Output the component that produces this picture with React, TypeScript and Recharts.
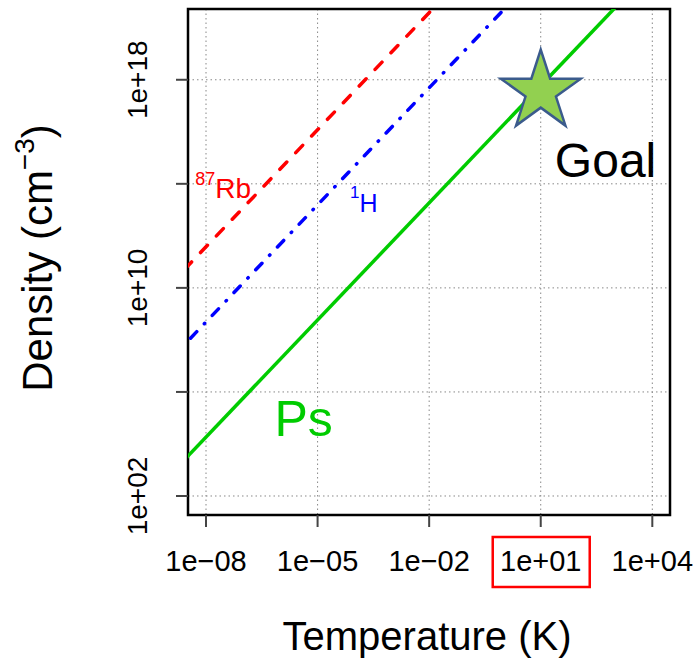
import React from "react";
import {
  ComposedChart,
  Line,
  XAxis,
  YAxis,
  CartesianGrid,
  ReferenceDot,
  ReferenceArea,
  Label,
} from "recharts";

const FONT = '"Liberation Sans", Arial, Helvetica, sans-serif';

// axis ranges (log10 limits of the plotting box)
const xDomain = [3.28e-9, 2.99e4];
const yDomain = [18.6, 5.25e20];

const xTicks = [1e-8, 1e-5, 1e-2, 1e1, 1e4];
const xTickLabels = ["1e\u221208", "1e\u221205", "1e\u221202", "1e+01", "1e+04"];
const boxedTick = 1e1;

const yTicks = [1e2, 1e6, 1e10, 1e14, 1e18];
const yTickLabels = ["1e+02", "", "1e+10", "", "1e+18"];

// degeneracy lines, n ~ T^1.5
const psLine = [
  { T: 1e-9, n: 5.8e2 },
  { T: 1e3, n: 5.9e20 },
];
const rbLine = [
  { T: 1e-9, n: 1.2e10 },
  { T: 1e-1, n: 1.2e22 },
];
const hLine = [
  { T: 1e-9, n: 1.55e7 },
  { T: 1e1, n: 1.55e22 },
];

const goalPoint = { T: 10, n: 3.5e17 };

const annotations = [
  { text: "Ps", sup: "", T: 6.9e-7, n: 2.0e4, color: "#00cc00", size: 50, supSize: 0, supRise: 0 },
  { text: "Goal", sup: "", T: 24, n: 1.86e14, color: "#000000", size: 48, supSize: 0, supRise: 0 },
  { text: "Rb", sup: "87", T: 5.1e-9, n: 2.95e13, color: "#ff0000", size: 28, supSize: 18, supRise: 13 },
  { text: "H", sup: "1", T: 7.4e-5, n: 7.9e12, color: "#0000ff", size: 25, supSize: 17, supRise: 14 },
];

const sameTick = (a: number, b: number) =>
  Math.abs(Math.log10(a) - Math.log10(b)) < 1e-6;

const XTick = (props: any) => {
  const { x, y, payload } = props;
  const i = xTicks.findIndex((t) => sameTick(t, payload.value));
  const label = i >= 0 ? xTickLabels[i] : "";
  const boxed = sameTick(payload.value, boxedTick);
  return (
    <g>
      {boxed && (
        <rect
          x={x - 48}
          y={y + 8}
          width={97}
          height={50}
          fill="none"
          stroke="#ff0000"
          strokeWidth={2.5}
        />
      )}
      <text
        x={x}
        y={y + 42}
        textAnchor="middle"
        fontFamily={FONT}
        fontSize={29}
        fill="#000"
      >
        {label}
      </text>
    </g>
  );
};

const YTick = (props: any) => {
  const { x, y, payload } = props;
  const i = yTicks.findIndex((t) => sameTick(t, payload.value));
  const label = i >= 0 ? yTickLabels[i] : "";
  if (!label) return <g />;
  const tx = x - 27;
  return (
    <text
      x={tx}
      y={y}
      transform={`rotate(-90, ${tx}, ${y})`}
      textAnchor="middle"
      fontFamily={FONT}
      fontSize={28}
      fill="#000"
    >
      {label}
    </text>
  );
};

const XTitle = (props: any) => {
  const vb = props.viewBox;
  return (
    <text
      x={vb.x + vb.width / 2 - 2}
      y={vb.y + 135}
      textAnchor="middle"
      fontFamily={FONT}
      fontSize={40}
      fill="#000"
    >
      Temperature (K)
    </text>
  );
};

const YTitle = (props: any) => {
  const vb = props.viewBox;
  const tx = 52;
  const ty = vb.y + vb.height / 2 - 4;
  return (
    <text
      x={tx}
      y={ty}
      transform={`rotate(-90, ${tx}, ${ty})`}
      textAnchor="middle"
      fontFamily={FONT}
      fontSize={42}
      fill="#000"
    >
      <tspan>Density (cm</tspan>
      <tspan fontSize={28} dy={-18}>
        {"\u22123"}
      </tspan>
      <tspan dy={18}>)</tspan>
    </text>
  );
};

const Star = (props: any) => {
  const { cx, cy } = props;
  const R = 42;
  const r = 16;
  const pts: string[] = [];
  for (let k = 0; k < 10; k++) {
    const rad = k % 2 === 0 ? R : r;
    const a = -Math.PI / 2 + (k * Math.PI) / 5;
    pts.push(`${cx + rad * Math.cos(a)},${cy + rad * Math.sin(a)}`);
  }
  return (
    <polygon
      points={pts.join(" ")}
      fill="#92d050"
      stroke="#3b5b8c"
      strokeWidth={2.5}
      strokeLinejoin="miter"
    />
  );
};

const makeNote = (a: (typeof annotations)[number]) => (props: any) => {
  const { cx, cy } = props;
  return (
    <text x={cx} y={cy} fontFamily={FONT} fontSize={a.size} fill={a.color}>
      {a.sup && (
        <tspan fontSize={a.supSize} dy={-a.supRise}>
          {a.sup}
        </tspan>
      )}
      <tspan dy={a.sup ? a.supRise : 0}>{a.text}</tspan>
    </text>
  );
};

export default function App() {
  return (
    <div style={{ position: "absolute", left: 0, top: 0, background: "#fff" }}>
      <ComposedChart
        width={697}
        height={665}
        margin={{ top: 9, right: 27, bottom: 0, left: 0 }}
      >
        <CartesianGrid stroke="#888" strokeDasharray="1.5 3" />
        <XAxis
          dataKey="T"
          type="number"
          scale="log"
          domain={xDomain}
          allowDataOverflow
          ticks={xTicks}
          interval={0}
          height={150}
          axisLine={false}
          tickSize={12}
          tickLine={{ stroke: "#444", strokeWidth: 2 }}
          tick={<XTick />}
        >
          <Label content={<XTitle />} />
        </XAxis>
        <YAxis
          dataKey="n"
          type="number"
          scale="log"
          domain={yDomain}
          allowDataOverflow
          ticks={yTicks}
          interval={0}
          width={188}
          axisLine={false}
          tickSize={12}
          tickLine={{ stroke: "#444", strokeWidth: 2 }}
          tick={<YTick />}
        >
          <Label content={<YTitle />} />
        </YAxis>
        <Line
          data={psLine}
          dataKey="n"
          type="linear"
          stroke="#00cc00"
          strokeWidth={3.5}
          dot={false}
          isAnimationActive={false}
        />
        <Line
          data={rbLine}
          dataKey="n"
          type="linear"
          stroke="#ff0000"
          strokeWidth={3.5}
          strokeDasharray="10 13"
          strokeLinecap="round"
          dot={false}
          isAnimationActive={false}
        />
        <Line
          data={hLine}
          dataKey="n"
          type="linear"
          stroke="#0000ff"
          strokeWidth={3.5}
          strokeDasharray="9 11 0.5 11"
          strokeLinecap="round"
          dot={false}
          isAnimationActive={false}
        />
        {annotations.map((a) => (
          <ReferenceDot
            key={a.text}
            x={a.T}
            y={a.n}
            r={0}
            shape={makeNote(a)}
          />
        ))}
        <ReferenceDot x={goalPoint.T} y={goalPoint.n} shape={<Star />} />
        <ReferenceArea
          x1={xDomain[0]}
          x2={xDomain[1]}
          y1={yDomain[0]}
          y2={yDomain[1]}
          fill="none"
          stroke="#000"
          strokeWidth={2.5}
        />
      </ComposedChart>
    </div>
  );
}
